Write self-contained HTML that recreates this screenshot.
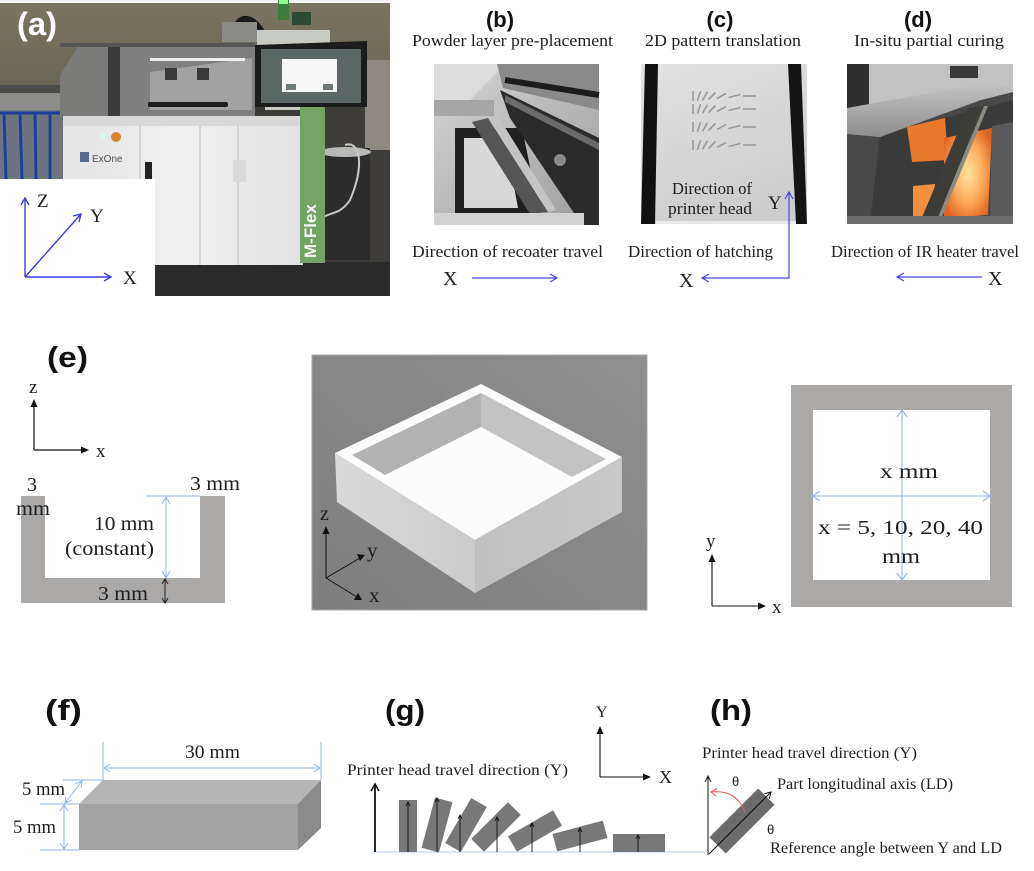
<!DOCTYPE html>
<html><head><meta charset="utf-8">
<style>
html,body{margin:0;padding:0;background:#fff;}
svg{display:block;}
.s{font-family:"Liberation Serif",serif;fill:#1e1e1e;}
.b{font-family:"Liberation Sans",sans-serif;font-weight:bold;fill:#111;}
</style></head><body>
<svg width="1034" height="871" viewBox="0 0 1034 871" xmlns="http://www.w3.org/2000/svg">
<defs>
<linearGradient id="wall" x1="0" y1="0" x2="0" y2="1"><stop offset="0" stop-color="#7a7562"/><stop offset="1" stop-color="#6a6656"/></linearGradient>
<linearGradient id="bodyg" x1="0" y1="0" x2="1" y2="0"><stop offset="0" stop-color="#e4e4e4"/><stop offset="0.5" stop-color="#f0f0f0"/><stop offset="1" stop-color="#e2e2e2"/></linearGradient>
<linearGradient id="bg" x1="0" y1="0" x2="1" y2="1"><stop offset="0" stop-color="#d6d6d6"/><stop offset="1" stop-color="#9c9c9c"/></linearGradient>
<linearGradient id="cg" x1="0" y1="0" x2="0.4" y2="1"><stop offset="0" stop-color="#e2e2e2"/><stop offset="1" stop-color="#cdcdcd"/></linearGradient>
<radialGradient id="glow" cx="0.5" cy="0.5" r="0.6"><stop offset="0" stop-color="#ffe3a0"/><stop offset="0.5" stop-color="#ffb060"/><stop offset="1" stop-color="#e0601c"/></radialGradient>
<linearGradient id="plate" x1="0" y1="0" x2="0" y2="1"><stop offset="0" stop-color="#c4c4c4"/><stop offset="1" stop-color="#8e8e8e"/></linearGradient>
<linearGradient id="eg" x1="0" y1="1" x2="1" y2="0"><stop offset="0" stop-color="#7e7e7e"/><stop offset="1" stop-color="#8f8f8f"/></linearGradient>
<linearGradient id="lf" x1="0" y1="0" x2="1" y2="0"><stop offset="0" stop-color="#dadada"/><stop offset="1" stop-color="#cbcbcb"/></linearGradient>
<linearGradient id="rf" x1="0" y1="0" x2="1" y2="0"><stop offset="0" stop-color="#c0c0c0"/><stop offset="1" stop-color="#c8c8c8"/></linearGradient>
</defs>

<!-- ============ (a) photo ============ -->
<rect x="0" y="0" width="390" height="296" fill="#3c3b38"/>
<rect x="0" y="0" width="390" height="3" fill="#f4f4f4"/>
<rect x="0" y="3" width="390" height="85" fill="url(#wall)"/>
<rect x="0" y="85" width="65" height="8" fill="#4a4a48"/>
<rect x="0" y="93" width="65" height="20" fill="#8c8c8a"/>
<rect x="0" y="110" width="65" height="70" fill="#6e7380"/>
<g stroke="#1d3f99" stroke-width="3">
<line x1="4" y1="112" x2="6" y2="180"/><line x1="20" y1="112" x2="22" y2="180"/><line x1="35" y1="112" x2="36" y2="180"/><line x1="50" y1="112" x2="50" y2="180"/><line x1="0" y1="113" x2="65" y2="113"/>
</g>
<rect x="325" y="88" width="65" height="180" fill="#3e3d3a"/>
<rect x="365" y="60" width="25" height="90" fill="#8e8a82"/>
<rect x="325" y="148" width="45" height="112" fill="#2c2c2c"/>
<ellipse cx="345" cy="152" rx="26" ry="5" fill="#b8b8b6"/>
<path d="M345 145 C 360 140, 365 165, 350 200 C 340 215, 330 212, 322 218" stroke="#c8c8c8" stroke-width="2" fill="none"/>
<rect x="0" y="262" width="390" height="34" fill="#2a2a2a"/>
<!-- hose and top -->
<path d="M233 36 C 236 16, 250 12, 262 32" stroke="#1a1a1a" stroke-width="6" fill="none"/>
<rect x="222" y="22" width="35" height="20" fill="#8a8a86"/>
<rect x="278" y="0" width="11" height="20" fill="#3f7a3f"/>
<rect x="279" y="0" width="9" height="4" fill="#8f8"/>
<rect x="292" y="12" width="19" height="13" fill="#2f4a34"/>
<!-- enclosure -->
<polygon points="60,75 78,47 120,47 120,117 60,117" fill="#7b7b79"/>
<rect x="108" y="47" width="12" height="70" fill="#3a3a3a"/>
<rect x="120" y="45" width="135" height="72" fill="#7f7f7f"/>
<polygon points="150,72 252,58 252,110 150,110" fill="#a2a2a2"/>
<rect x="150" y="58" width="95" height="3" fill="#eeeeee"/>
<rect x="165" y="68" width="12" height="12" fill="#3a3a3a"/>
<rect x="197" y="68" width="12" height="12" fill="#3a3a3a"/>
<rect x="148" y="102" width="80" height="5" rx="2" fill="#1e1e1e"/>
<rect x="60" y="43" width="195" height="4" fill="#555"/>
<!-- body -->
<rect x="63" y="116" width="240" height="149" fill="url(#bodyg)"/>
<rect x="63" y="116" width="240" height="10" fill="#d9d9d9"/>
<g stroke="#c4c4c4" stroke-width="1.2">
<line x1="140" y1="126" x2="140" y2="265"/><line x1="200" y1="126" x2="200" y2="265"/><line x1="238" y1="126" x2="238" y2="160"/><line x1="238" y1="182" x2="238" y2="265"/>
</g>
<polygon points="233,160 246,160 246,182 233,182" fill="#dadada"/>
<rect x="145" y="162" width="7" height="18" fill="#222"/>
<circle cx="103" cy="136" r="2.5" fill="#cfe"/>
<circle cx="116" cy="137" r="5" fill="#d9862a"/>
<text x="92" y="162" font-family="Liberation Sans,sans-serif" font-size="10" fill="#555">ExOne</text>
<rect x="80" y="152" width="9" height="10" fill="#5a6a8a"/>
<!-- column -->
<rect x="257" y="30" width="73" height="15" fill="#c8cbc4"/>
<rect x="265" y="30" width="60" height="80" fill="#c8cbc4"/>
<rect x="300" y="105" width="25" height="158" fill="#74a365"/>
<text transform="translate(316,258) rotate(-90)" font-family="Liberation Sans,sans-serif" font-weight="bold" font-size="17" fill="#f4f4f4">M-Flex</text>
<!-- monitor -->
<polygon points="255,45 367,41 367,107 255,107" fill="#1c1c1c"/>
<rect x="261" y="49" width="100" height="54" fill="#5b6866"/>
<rect x="282" y="59" width="55" height="33" fill="#f6f6f6"/>
<rect x="286" y="84" width="10" height="6" fill="#6d7a78"/><rect x="323" y="84" width="10" height="6" fill="#6d7a78"/>
<!-- inset -->
<rect x="0" y="179" width="155" height="117" fill="#ffffff"/>
<g stroke="#3c3ce0" stroke-width="1.4" fill="none">
<line x1="25" y1="277" x2="25" y2="198"/><polyline points="21,205 25,198 29,205"/>
<line x1="25" y1="277" x2="81" y2="214"/><polyline points="73,216 81,214 79,222"/>
<line x1="25" y1="277" x2="111" y2="277"/><polyline points="104,273 111,277 104,281"/>
</g>
<text class="s" x="37" y="207" font-size="19">Z</text>
<text class="s" x="90" y="222" font-size="19">Y</text>
<text class="s" x="123" y="284" font-size="19">X</text>
<text x="17" y="35" font-family="Liberation Sans,sans-serif" font-weight="bold" font-size="32" fill="#fff" textLength="40" lengthAdjust="spacingAndGlyphs">(a)</text>

<!-- ============ (b) ============ -->
<text class="b" x="500" y="27" font-size="22" text-anchor="middle">(b)</text>
<text class="s" x="412" y="46" font-size="17" textLength="201" lengthAdjust="spacingAndGlyphs">Powder layer pre-placement</text>
<rect x="434" y="64" width="165" height="161" fill="url(#bg)"/>
<polygon points="434,64 505,64 470,100 434,100" fill="#dcdcdc"/>
<rect x="434" y="100" width="60" height="16" fill="#a6a6a6"/>
<polygon points="497,64 599,64 599,110 503,88" fill="#8a8a8a"/>
<path d="M505 80 L 599 95" stroke="#1c1c1c" stroke-width="6"/>
<polygon points="455,128 522,128 540,215 455,215" fill="#202020"/>
<polygon points="464,138 505,138 518,208 464,208" fill="#d8d8d8"/>
<polygon points="472,122 488,118 548,212 530,214" fill="#555"/>
<polygon points="488,118 498,116 556,210 548,212" fill="#c4c4c4"/>
<polygon points="500,90 599,138 599,225 582,225 510,118" fill="#2b2b2b"/>
<polygon points="505,95 599,143 599,150 505,102" fill="#6a6a6a"/>
<circle cx="560" cy="160" r="6" fill="#8a8a8a"/>
<rect x="434" y="213" width="150" height="12" fill="#d2d2d2"/>
<text class="s" x="412" y="257" font-size="17" textLength="191" lengthAdjust="spacingAndGlyphs">Direction of recoater travel</text>
<text class="s" x="443" y="285" font-size="20">X</text>
<g stroke="#4848dc" stroke-width="1.2" fill="none"><line x1="472" y1="278" x2="557" y2="278"/><polyline points="550,274 557,278 550,282"/></g>

<!-- ============ (c) ============ -->
<text class="b" x="720" y="27" font-size="22" text-anchor="middle">(c)</text>
<text class="s" x="645" y="46" font-size="17" textLength="156" lengthAdjust="spacingAndGlyphs">2D pattern translation</text>
<rect x="641" y="64" width="166" height="160" fill="url(#cg)"/>
<polygon points="645,64 658,64 655,224 641,224" fill="#111"/>
<polygon points="788,64 801,64 807,224 796,224" fill="#141414"/>
<rect x="656" y="221" width="140" height="3" fill="#eaeaea"/>
<g stroke="#9a9a9a" stroke-width="1.6">
<g id="row"><line x1="693" y1="101" x2="693" y2="91"/><line x1="697.4" y1="100.8" x2="700.6" y2="91.2"/><line x1="702.5" y1="100.3" x2="707.5" y2="91.7"/><line x1="708.5" y1="99.5" x2="715.5" y2="92.5"/><line x1="717" y1="98.5" x2="726" y2="93.5"/><line x1="728.5" y1="97.5" x2="740.5" y2="94.5"/><line x1="743" y1="96" x2="756" y2="96"/></g>
<use href="#row" y="13"/><use href="#row" y="31"/><use href="#row" y="49"/>
</g>
<text class="s" x="672" y="194" font-size="17" textLength="80" lengthAdjust="spacingAndGlyphs">Direction of</text>
<text class="s" x="668" y="214" font-size="17" textLength="84" lengthAdjust="spacingAndGlyphs">printer head</text>
<text class="s" x="768" y="209" font-size="19">Y</text>
<g stroke="#4848dc" stroke-width="1.2" fill="none"><polyline points="702,278 789,278 789,192"/><polyline points="785,199 789,192 793,199"/><polyline points="709,274 702,278 709,282"/></g>
<text class="s" x="628" y="257" font-size="17" textLength="145" lengthAdjust="spacingAndGlyphs">Direction of hatching</text>
<text class="s" x="679" y="287" font-size="20">X</text>

<!-- ============ (d) ============ -->
<text class="b" x="918" y="27" font-size="22" text-anchor="middle">(d)</text>
<text class="s" x="854" y="46" font-size="17" textLength="150" lengthAdjust="spacingAndGlyphs">In-situ partial curing</text>
<rect x="847" y="64" width="166" height="160" fill="#484848"/>
<polygon points="847,64 1013,64 1013,84 847,108" fill="#c2c2c2"/>
<rect x="847" y="64" width="22" height="70" fill="#2e2e2e"/>
<rect x="950" y="66" width="28" height="12" fill="#3a3a3a"/>
<polygon points="880,135 1013,100 1013,130 990,135 985,224 870,224" fill="#3a3a3a"/>
<polygon points="907,127 945,118 948,160 912,162" fill="#e8782a"/>
<polygon points="944,138 992,128 988,215 944,218" fill="url(#glow)"/>
<polygon points="913,186 935,184 934,217 913,217" fill="#f39040"/>
<polygon points="847,108 981,84 1013,83 1013,92 981,100 880,137 847,134" fill="url(#plate)"/>
<polygon points="968,108 984,106 936,222 920,222" fill="#3c3c38"/>
<polygon points="984,106 988,106 940,222 936,222" fill="#8a8a80"/>
<polygon points="992,126 1013,122 1013,224 990,224" fill="#5a5a5a"/>
<rect x="847" y="216" width="166" height="8" fill="#6c6c6c"/>
<text class="s" x="831" y="257" font-size="17" textLength="188" lengthAdjust="spacingAndGlyphs">Direction of IR heater travel</text>
<g stroke="#4848dc" stroke-width="1.2" fill="none"><line x1="897" y1="277" x2="982" y2="277"/><polyline points="904,273 897,277 904,281"/></g>
<text class="s" x="988" y="285" font-size="20">X</text>

<!-- ============ (e) left ============ -->
<text class="b" x="47" y="367" font-size="29" textLength="41" lengthAdjust="spacingAndGlyphs">(e)</text>
<g stroke="#111" stroke-width="1.2" fill="none"><line x1="34" y1="450" x2="34" y2="405"/><line x1="34" y1="450" x2="83" y2="450"/></g>
<polygon points="30.5,407 34,399 37.5,407" fill="#111"/><polygon points="81,446.5 89,450 81,453.5" fill="#111"/>
<text class="s" x="29" y="393" font-size="19">z</text>
<text class="s" x="96" y="457" font-size="19">x</text>
<polygon points="21,496 45,496 45,578 200,578 200,496 225,496 225,603 21,603" fill="#aba8a8"/>
<text class="s" x="27" y="491" font-size="20">3</text>
<text class="s" x="16" y="515" font-size="20" textLength="34" lengthAdjust="spacingAndGlyphs">mm</text>
<text class="s" x="190" y="490" font-size="20" textLength="50" lengthAdjust="spacingAndGlyphs">3 mm</text>
<g stroke="#8fb6e4" stroke-width="1" fill="none"><line x1="146" y1="496" x2="200" y2="496"/><line x1="166" y1="497" x2="166" y2="578"/><polyline points="162,504 166,497 170,504"/><polyline points="162,571 166,578 170,571"/></g>
<text class="s" x="94" y="530" font-size="20" textLength="60" lengthAdjust="spacingAndGlyphs">10 mm</text>
<text class="s" x="65" y="555" font-size="20" textLength="89" lengthAdjust="spacingAndGlyphs">(constant)</text>
<text class="s" x="98" y="600" font-size="20" textLength="50" lengthAdjust="spacingAndGlyphs">3 mm</text>
<g stroke="#222" stroke-width="1" fill="none"><line x1="165" y1="579" x2="165" y2="603"/><polyline points="162,584 165,579 168,584"/><polyline points="162,598 165,603 168,598"/></g>

<!-- ============ (e) center ============ -->
<rect x="312" y="355" width="335" height="255" fill="url(#eg)" stroke="#a8a8a8" stroke-width="1"/>
<polygon points="481,384 622,457 475,540 335,453" fill="#fcfcfc"/>
<polygon points="352,455 481,393 481,427 385,475" fill="#b3b3b3"/>
<polygon points="481,393 606,459 572,477 481,427" fill="#c3c3c3"/>
<polygon points="335,453 475,540 475,593 337,502" fill="url(#lf)"/>
<polygon points="475,540 622,457 622,512 475,593" fill="url(#rf)"/>
<g stroke="#111" stroke-width="1" fill="none"><line x1="326" y1="578" x2="326" y2="532"/><line x1="326" y1="578" x2="360" y2="558"/><line x1="326" y1="578" x2="357" y2="597"/></g>
<polygon points="322.5,534 326,526 329.5,534" fill="#111"/>
<polygon points="357,554 365,555 360,561" fill="#111"/>
<polygon points="354,600 362,600 358,593" fill="#111"/>
<text class="s" x="320" y="520" font-size="20">z</text>
<text class="s" x="367" y="557" font-size="21">y</text>
<text class="s" x="369" y="602" font-size="21">x</text>

<!-- ============ (e) right ============ -->
<rect x="791" y="385" width="221" height="222" fill="#aba8a8"/>
<rect x="813" y="410" width="177" height="170" fill="#fff"/>
<g stroke="#8fb6e4" stroke-width="1.1" fill="none"><line x1="902" y1="410" x2="902" y2="580"/><line x1="813" y1="496" x2="990" y2="496"/><polyline points="897,417 902,410 907,417"/><polyline points="897,573 902,580 907,573"/><polyline points="820,491 813,496 820,501"/><polyline points="983,491 990,496 983,501"/></g>
<text class="s" x="880" y="478" font-size="20" textLength="58" lengthAdjust="spacingAndGlyphs">x mm</text>
<text class="s" x="818" y="534" font-size="20" textLength="165" lengthAdjust="spacingAndGlyphs">x = 5, 10, 20, 40</text>
<text class="s" x="882" y="563" font-size="20" textLength="38" lengthAdjust="spacingAndGlyphs">mm</text>
<g stroke="#111" stroke-width="1.1" fill="none"><line x1="712" y1="606" x2="712" y2="560"/><line x1="712" y1="606" x2="760" y2="606"/></g>
<polygon points="708.5,562 712,554 715.5,562" fill="#111"/><polygon points="758,602.5 766,606 758,609.5" fill="#111"/>
<text class="s" x="706" y="547" font-size="19">y</text>
<text class="s" x="772" y="613" font-size="19">x</text>

<!-- ============ (f) ============ -->
<text class="b" x="45" y="720" font-size="29" textLength="37" lengthAdjust="spacingAndGlyphs">(f)</text>
<polygon points="79,804 103,780 321,780 298,804" fill="#b5b5b5"/>
<polygon points="298,804 321,780 321,828 298,850" fill="#8b8b8b"/>
<rect x="79" y="804" width="219" height="46" fill="#a3a3a3"/>
<g stroke="#8fb6e4" stroke-width="1" fill="none">
<line x1="103" y1="742" x2="103" y2="780"/><line x1="321" y1="742" x2="321" y2="780"/>
<line x1="104" y1="768" x2="320" y2="768"/><polyline points="110,764 104,768 110,772"/><polyline points="314,764 320,768 314,772"/>
<line x1="63" y1="780" x2="103" y2="780"/><line x1="40" y1="804" x2="79" y2="804"/><line x1="40" y1="850" x2="79" y2="850"/>
<line x1="65" y1="803" x2="82" y2="781"/><polyline points="81.1,787.8 82,781 75.5,783.6"/><polyline points="71.5,800.4 65,803 65.9,796.2"/>
<line x1="64" y1="805" x2="64" y2="849"/><polyline points="60,811 64,805 68,811"/><polyline points="60,843 64,849 68,843"/>
</g>
<text class="s" x="185" y="758" font-size="19" textLength="55" lengthAdjust="spacingAndGlyphs">30 mm</text>
<text class="s" x="22" y="795" font-size="19" textLength="43" lengthAdjust="spacingAndGlyphs">5 mm</text>
<text class="s" x="13" y="833" font-size="19" textLength="43" lengthAdjust="spacingAndGlyphs">5 mm</text>

<!-- ============ (g) ============ -->
<text class="b" x="385" y="720" font-size="29" textLength="40" lengthAdjust="spacingAndGlyphs">(g)</text>
<text class="s" x="347" y="775" font-size="16" textLength="221" lengthAdjust="spacingAndGlyphs">Printer head travel direction (Y)</text>
<g stroke="#111" stroke-width="1.1" fill="none"><line x1="600" y1="777" x2="600" y2="732"/><line x1="600" y1="777" x2="645" y2="777"/></g>
<polygon points="596.5,734 600,726 603.5,734" fill="#111"/><polygon points="643,773.5 651,777 643,780.5" fill="#111"/>
<text class="s" x="596" y="717" font-size="16">Y</text>
<text class="s" x="659" y="783" font-size="18">X</text>
<line x1="375" y1="852" x2="705" y2="852" stroke="#c4d7ec" stroke-width="1.2"/>
<g fill="#787878">
<rect x="-9" y="-26" width="18" height="52" transform="translate(408,826)"/>
<rect x="-9" y="-26" width="18" height="52" transform="translate(437,825) rotate(15)"/>
<rect x="-9" y="-26" width="18" height="52" transform="translate(466,825) rotate(30)"/>
<rect x="-9" y="-26" width="18" height="52" transform="translate(496,827) rotate(45)"/>
<rect x="-9" y="-26" width="18" height="52" transform="translate(535,831) rotate(60)"/>
<rect x="-9" y="-26" width="18" height="52" transform="translate(580,836) rotate(75)"/>
<rect x="-9" y="-26" width="18" height="52" transform="translate(639,843) rotate(90)"/>
</g>
<g stroke="#111" fill="none">
<line x1="375" y1="852" x2="375" y2="785" stroke-width="1.8"/><polyline points="371,791 375,784 379,791" stroke-width="1.6"/>
<g stroke-width="0.9">
<line x1="408" y1="852" x2="408" y2="802"/><polyline points="406,806 408,802 410,806"/>
<line x1="437" y1="852" x2="437" y2="798"/><polyline points="435,802 437,798 439,802"/>
<line x1="460" y1="852" x2="460" y2="815"/><polyline points="458,819 460,815 462,819"/>
<line x1="497" y1="852" x2="497" y2="817"/><polyline points="495,821 497,817 499,821"/>
<line x1="532" y1="852" x2="532" y2="823"/><polyline points="530,827 532,823 534,827"/>
<line x1="580" y1="852" x2="580" y2="828"/><polyline points="578,832 580,828 582,832"/>
<line x1="638" y1="852" x2="638" y2="835"/><polyline points="636,839 638,835 640,839"/>
</g></g>

<!-- ============ (h) ============ -->
<text class="b" x="710" y="720" font-size="29" textLength="42" lengthAdjust="spacingAndGlyphs">(h)</text>
<text class="s" x="702" y="758" font-size="16" textLength="215" lengthAdjust="spacingAndGlyphs">Printer head travel direction (Y)</text>
<text class="s" x="777" y="789" font-size="16" textLength="176" lengthAdjust="spacingAndGlyphs">Part longitudinal axis (LD)</text>
<text x="732" y="786" font-family="Liberation Sans,sans-serif" font-size="13" fill="#222">θ</text>
<rect x="-11.5" y="-34.5" width="23" height="69" fill="#6b6b6b" transform="translate(742,821) rotate(45)"/>
<g stroke="#111" fill="none" stroke-width="1">
<line x1="708" y1="855" x2="708" y2="777"/><polyline points="705,782 708,776 711,782"/>
<line x1="709" y1="854" x2="771" y2="792"/><polyline points="769.3,798.7 771,792 764.3,793.7"/>
</g>
<g stroke="#e26666" fill="none" stroke-width="1.1"><path d="M745 812 Q 736 789 711 792"/><polyline points="717,788.5 711,792 716,796"/></g>
<text x="767" y="834" font-family="Liberation Sans,sans-serif" font-size="13" fill="#222">θ</text>
<text class="s" x="770" y="853" font-size="16" textLength="232" lengthAdjust="spacingAndGlyphs">Reference angle between Y and LD</text>
</svg>
</body></html>
